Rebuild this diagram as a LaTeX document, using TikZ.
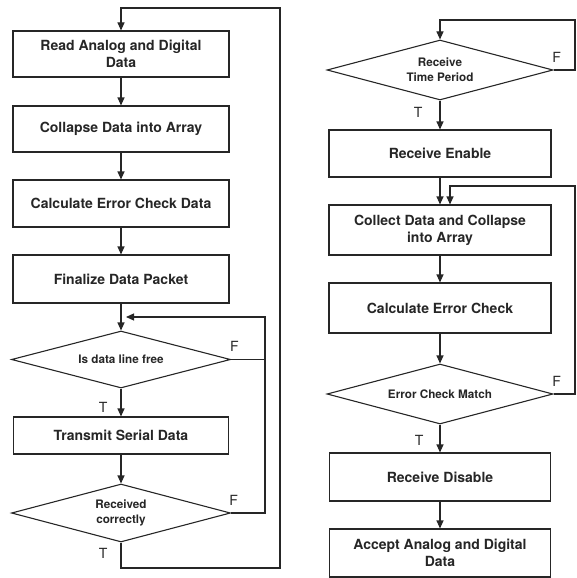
\documentclass[tikz,border=0pt]{standalone}
\usepackage{fontspec}
\setmainfont{TeX Gyre Heros}
\usetikzlibrary{arrows.meta,shapes.geometric}
\tikzset{>={Triangle[length=8pt,width=7pt]}}
\tikzset{
  proc/.style={draw,minimum width=216pt,minimum height=46pt,
    align=center,inner sep=2pt,
    font=\fontsize{14}{17}\selectfont\bfseries},
  dec/.style={draw,diamond,aspect=4,inner sep=0pt,
    minimum width=219pt,minimum height=57pt,align=center,
    font=\fontsize{11.7}{15}\selectfont\bfseries},
  tf/.style={font=\fontsize{14}{16}\selectfont,inner sep=2pt}
}

\begin{document}
\begin{tikzpicture}[x=1pt,y=-1pt,line width=1.1pt,color=black!85]
\useasboundingbox (0,0) rectangle (576,578);
% sending side
\node[proc] (read) at (121,54) {Read Analog and Digital\\Data};
\node[proc] (coll) at (121,129) {Collapse Data into Array};
\node[proc,minimum height=47pt] (calc) at (121,203.5) {Calculate Error Check Data};
\node[proc,minimum height=48pt] (fin) at (121,279) {Finalize Data Packet};
\node[dec] (free) at (121,359.5) {Is data line free};
\node[proc,minimum width=215pt,minimum height=37pt] (send) at (121,435.5) {Transmit Serial Data};
\node[dec,minimum height=58pt] (ok) at (121,513) {Received\\correctly};
\draw[->] (read) -- (coll);
\draw[->] (coll) -- (calc);
\draw[->] (calc) -- (fin);
\draw[->] (fin) -- (free);
\draw[->] (free) -- node[tf,left=11pt,pos=0.66] {T} (send);
\draw[->] (send) -- (ok);
% retry loop
\coordinate (back) at (265,317);
\coordinate (join) at (126,317);
\draw (free.east) -- node[tf,above=5pt,pos=0.1] {F} (free.east -| back);
\draw[->] (ok.east) -- node[tf,above=5pt,pos=0.08] {F} (ok.east -| back)
  -- (back) -- (join);
% back to start
\coordinate (bot) at (280,568);
\coordinate (top) at (280,8);
\draw[->] (ok.south) -- node[tf,left=11pt,pos=0.42] {T} (ok.south |- bot)
  -- (bot) -- (top) -| (read.north);
% receiving side
\node[dec,minimum width=226pt,minimum height=60pt] (tper) at (440,70) {Receive\\Time Period};
\node[proc,minimum width=222pt,minimum height=47pt] (ren) at (440,153.5) {Receive Enable};
\node[proc,minimum width=222pt,minimum height=50pt] (collect) at (440,230) {Collect Data and Collapse\\into Array};
\node[proc,minimum width=222pt,minimum height=50pt] (chk) at (440,308) {Calculate Error Check};
\node[dec,minimum width=226pt,minimum height=60pt] (match) at (440,394) {Error Check Match};
\node[proc,minimum width=221pt,minimum height=48pt] (rdis) at (440,477) {Receive Disable};
\node[proc,minimum width=221pt,minimum height=48pt] (acc) at (440,553) {Accept Analog and Digital\\Data};
\coordinate (redge) at (575,20);
\coordinate (again) at (450,186);
\draw[->] (tper.east) -- node[tf,above=5pt,pos=0.14] {F} (tper.east -| redge)
  -- (redge) -| (tper.north);
\draw[->] (tper) -- node[tf,left=15pt,pos=0.4] {T} (ren);
\draw[->] (ren) -- (collect);
\draw[->] (match.east) -- node[tf,above=5pt,pos=0.15] {F} (match.east -| redge)
  |- (again) -- (again |- collect.north);
\draw[->] (collect) -- (chk);
\draw[->] (chk) -- (match);
\draw[->] (match) -- node[tf,left=14pt,pos=0.55] {T} (rdis);
\draw[->] (rdis) -- (acc);
\end{tikzpicture}
\end{document}
